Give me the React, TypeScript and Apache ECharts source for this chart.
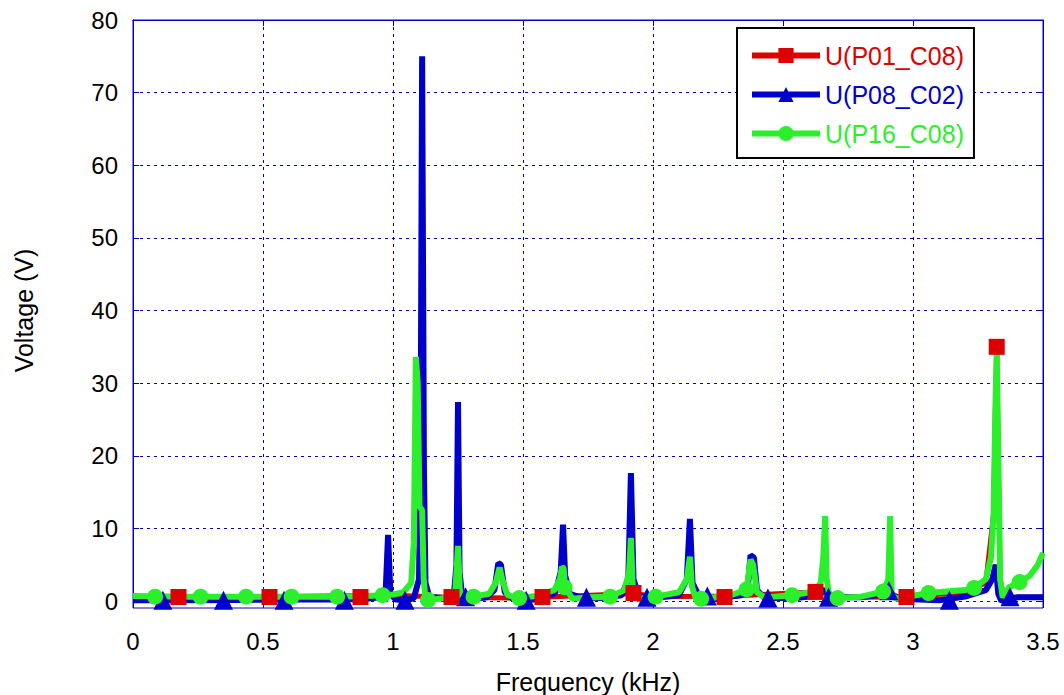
import React, { useEffect, useRef } from "react";
import * as echarts from "echarts";

const seriesNames = ["U(P01_C08)", "U(P08_C02)", "U(P16_C08)"];
const seriesColors = ["#dd0000", "#0000cc", "#2bef2b"];
const xAxisName = "Frequency (kHz)";
const yAxisName = "Voltage (V)";

// Curve points [kHz, V]
const redCurve: number[][] = [
  [0, 0.6], [0.5, 0.6], [1.0, 0.8], [1.2, 0.5], [1.5, 0.4], [1.9, 1.0], [1.925, 1.1], [2.0, 0.6],
  [2.3, 0.7], [2.6, 1.2], [2.625, 1.25], [2.66, 1.5], [2.7, 0.5], [2.975, 0.55],
  [3.2, 1.2], [3.28, 2.5], [3.31, 12], [3.316, 25], [3.322, 35], [3.328, 20], [3.335, 3],
  [3.35, 0.5], [3.4, 0.5], [3.5, 0.5],
];
const blueCurve: number[][] = [
  [0, 0.1], [0.2, 0.1], [0.4, 0.15], [0.6, 0.2], [0.8, 0.2], [0.9, 0.3], [0.95, 0.5],
  [0.972, 1.5], [0.981, 9.1], [0.99, 1.0], [1.01, 0.2], [1.05, 0.1], [1.08, 0.4],
  [1.1, 3], [1.106, 20], [1.112, 75], [1.119, 18], [1.125, 2.5], [1.14, 0.5], [1.2, 0.4],
  [1.235, 1.2], [1.244, 5], [1.25, 27.4], [1.256, 4], [1.265, 1], [1.28, 0.6], [1.3, 0.2],
  [1.36, 0.5], [1.39, 1.5], [1.405, 5.2], [1.415, 5.0], [1.43, 1.2], [1.46, 0.3], [1.5, 0.1],
  [1.58, 0.3], [1.625, 1.2], [1.645, 4], [1.654, 10.5], [1.662, 3.5], [1.68, 1], [1.72, 0.5],
  [1.8, 0.4], [1.88, 0.8], [1.905, 3], [1.915, 17.6], [1.925, 3], [1.945, 0.7], [2.0, 0.4],
  [2.1, 0.8], [2.13, 3], [2.142, 11.3], [2.152, 2.5], [2.175, 0.8], [2.25, 0.4], [2.34, 0.8],
  [2.365, 2], [2.375, 6.3], [2.388, 6], [2.4, 1.5], [2.43, 0.4], [2.55, 0.4], [2.64, 0.8],
  [2.662, 1.6], [2.675, 0.5], [2.8, 0.5], [2.88, 0.9], [2.905, 2.5], [2.915, 1], [2.95, 0.3],
  [3.1, 0.1], [3.2, 0.6], [3.28, 1.5], [3.305, 3], [3.318, 5], [3.328, 1], [3.34, 0],
  [3.36, 0.3], [3.4, 0.5], [3.5, 0.5],
];
const greenCurve: number[][] = [
  [0, 0.7], [0.2, 0.6], [0.5, 0.6], [0.8, 0.6], [0.9, 0.7], [0.96, 0.8], [1.0, 0.9],
  [1.04, 1.2], [1.07, 2.5], [1.08, 8], [1.088, 33.6], [1.095, 30], [1.102, 13], [1.112, 12.5],
  [1.118, 3], [1.125, 0.3], [1.135, 0.15], [1.2, 0.4], [1.24, 1.5], [1.25, 7.6], [1.257, 1.5],
  [1.27, 0.3], [1.31, 0.6], [1.37, 1.0], [1.395, 2.5], [1.41, 4.6], [1.42, 3], [1.44, 0.8],
  [1.485, 0.4], [1.55, 0.7], [1.62, 1.5], [1.642, 3], [1.65, 4.7], [1.656, 4.5], [1.662, 1.9],
  [1.69, 0.3], [1.75, 0.5], [1.835, 0.6], [1.89, 1.5], [1.908, 4], [1.915, 8.7], [1.922, 2],
  [1.94, 0.3], [2.01, 0.6], [2.1, 1.2], [2.13, 3], [2.142, 6.1], [2.15, 2], [2.165, 0.3],
  [2.185, 0.3], [2.3, 0.8], [2.36, 1.6], [2.375, 5.7], [2.385, 5], [2.4, 1.2], [2.43, 0.5],
  [2.535, 0.8], [2.62, 1.3], [2.645, 2.5], [2.655, 6], [2.662, 11.7], [2.668, 3], [2.68, 0.3],
  [2.71, 0.4], [2.8, 0.6], [2.885, 1.3], [2.905, 3], [2.912, 11.7], [2.918, 1], [2.935, 0.3],
  [3.06, 1.1], [3.2, 1.5], [3.235, 1.8], [3.28, 3], [3.3, 6], [3.31, 12], [3.316, 25],
  [3.322, 34], [3.328, 20], [3.335, 3], [3.345, 0.5], [3.37, 1.9], [3.41, 2.6], [3.45, 3.5],
  [3.48, 5], [3.5, 6.6],
];

// Marker points [kHz, V]
const redMarkers: number[][] = [
  [0.175, 0.55], [0.525, 0.55], [0.875, 0.55], [1.225, 0.55], [1.575, 0.55],
  [1.925, 1.1], [2.275, 0.55], [2.625, 1.25], [2.975, 0.55], [3.322, 35],
];
const blueMarkers: number[][] = [
  [0.115, 0.1], [0.348, 0.1], [0.581, 0.1], [0.813, 0.1], [1.046, 0.1], [1.279, 0.6],
  [1.512, 0.1], [1.744, 0.5], [1.977, 0.5], [2.209, 0.7], [2.442, 0.4], [2.675, 0.5],
  [2.907, 1.4], [3.14, 0.1], [3.373, 0.6],
];
const greenMarkers: number[][] = [
  [0.085, 0.6], [0.26, 0.6], [0.435, 0.6], [0.61, 0.6], [0.785, 0.6], [0.96, 0.8],
  [1.135, 0.15], [1.31, 0.6], [1.485, 0.4], [1.66, 1.9], [1.835, 0.6], [2.01, 0.6],
  [2.185, 0.3], [2.36, 1.6], [2.535, 0.8], [2.71, 0.4], [2.885, 1.3], [3.06, 1.1],
  [3.235, 1.8], [3.41, 2.6],
];

const curves = [redCurve, blueCurve, greenCurve];
const markers = [redMarkers, blueMarkers, greenMarkers];
const symbols = ["rect", "triangle", "circle"];
const symbolSizes = [16, 19, 16];
const lineWidths = [5, 6, 6];
const lineZ = [1, 2, 3];
const markerZ = [6, 4, 5];

const FONT = "'Liberation Sans', Arial, sans-serif";
const GRID_BLUE = "#0000cc";

export default function App() {
  const ref = useRef<HTMLDivElement>(null);
  useEffect(() => {
    if (!ref.current) return;
    const chart = echarts.init(ref.current, null, { renderer: "svg" });
    const series: any[] = [];
    for (let i = 0; i < 3; i++) {
      series.push({
        type: "line",
        name: seriesNames[i],
        data: curves[i],
        xAxisIndex: 0,
        yAxisIndex: 0,
        symbol: symbols[i],
        showSymbol: false,
        clip: false,
        z: lineZ[i],
        color: seriesColors[i],
        lineStyle: { color: seriesColors[i], width: lineWidths[i] },
        itemStyle: { color: seriesColors[i] },
      });
    }
    for (let i = 0; i < 3; i++) {
      series.push({
        type: "scatter",
        name: seriesNames[i],
        data: markers[i],
        xAxisIndex: 0,
        yAxisIndex: 0,
        symbol: symbols[i],
        symbolSize: symbolSizes[i],
        clip: false,
        z: markerZ[i],
        itemStyle: { color: seriesColors[i], opacity: 1 },
      });
    }
    const axisLine = { show: true, onZero: false, lineStyle: { color: GRID_BLUE, width: 1 } };
    const axisTick = { show: true, inside: true, length: 6, lineStyle: { color: GRID_BLUE } };
    chart.setOption({
      animation: false,
      backgroundColor: "#ffffff",
      textStyle: { fontFamily: FONT },
      grid: {
        left: 133,
        right: 21,
        top: 20,
        bottom: 94,
        containLabel: false,
        outerBoundsMode: "none",
      },
      legend: {
        left: 737,
        top: 28,
        orient: "vertical",
        itemWidth: 68,
        itemHeight: 19,
        itemGap: 14,
        padding: [15, 10, 12, 12],
        borderColor: "#000000",
        borderWidth: 2,
        backgroundColor: "#ffffff",
        selectedMode: false,
        textStyle: { fontSize: 25, fontFamily: FONT },
        data: seriesNames.map((n, i) => ({
          name: n,
          lineStyle: { color: seriesColors[i], width: 6 },
          textStyle: { color: seriesColors[i], fontSize: 25, fontFamily: FONT },
        })),
      },
      xAxis: [
        {
          type: "value",
          min: 0,
          max: 3.5,
          interval: 0.5,
          name: xAxisName,
          nameLocation: "middle",
          nameGap: 68,
          nameMoveOverlap: false,
          nameTextStyle: { fontSize: 25, color: "#000", fontFamily: FONT },
          axisLine: { show: false, onZero: false },
          axisTick: { show: true, inside: false, length: 7, lineStyle: { color: GRID_BLUE } },
          axisLabel: {
            fontSize: 24,
            color: "#000",
            margin: 8,
            padding: [20, 0, 0, 0],
            verticalAlign: "top",
            fontFamily: FONT,
          },
          splitLine: { show: true, lineStyle: { color: GRID_BLUE, type: [3, 4], width: 1 } },
        },
        {
          type: "value",
          position: "top",
          min: 0,
          max: 3.5,
          interval: 0.5,
          axisLine,
          axisTick,
          axisLabel: { show: false },
          splitLine: { show: false },
        },
      ],
      yAxis: [
        {
          type: "value",
          min: 0,
          max: 80,
          interval: 10,
          name: yAxisName,
          nameLocation: "middle",
          nameGap: 97,
          nameTextStyle: { fontSize: 25, color: "#000", fontFamily: FONT },
          axisLine,
          axisTick,
          axisLabel: { fontSize: 24, color: "#000", margin: 15, fontFamily: FONT },
          splitLine: { show: true, lineStyle: { color: GRID_BLUE, type: [3, 4], width: 1 } },
        },
        {
          type: "value",
          position: "right",
          min: 0,
          max: 80,
          interval: 10,
          axisLine,
          axisTick,
          axisLabel: { show: false },
          splitLine: { show: false },
        },
      ],
      graphic: [
        {
          type: "rect",
          shape: { x: 133, y: 20, width: 910, height: 588 },
          style: { fill: "none", stroke: GRID_BLUE, lineWidth: 1 },
          silent: true,
          z: 0,
        },
      ],
      series,
    });
    return () => chart.dispose();
  }, []);
  return (
    <div
      ref={ref}
      style={{ position: "fixed", left: 0, top: 0, width: 1064, height: 695, background: "#fff" }}
    />
  );
}
